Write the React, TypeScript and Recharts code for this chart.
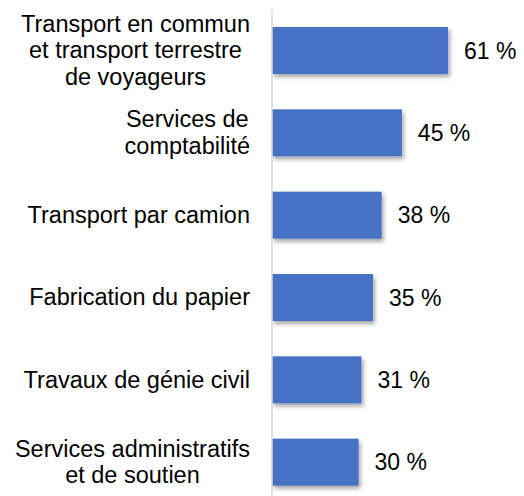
import { Bar, BarChart, LabelList, XAxis, YAxis } from "recharts";

const categories = [
  "Transport en commun\net transport terrestre\nde voyageurs",
  "Services de\ncomptabilité",
  "Transport par camion",
  "Fabrication du papier",
  "Travaux de génie civil",
  "Services administratifs\net de soutien",
];
const shares = [61, 45, 38, 35, 31, 30];

const data = categories.map((name, i) => ({ name, value: shares[i] }));

const FONT = '"Liberation Sans", Arial, sans-serif';
const LABEL_SIZE = 23.5;

let ctx: CanvasRenderingContext2D | null = null;
function textWidth(s: string, size: number) {
  if (!ctx) ctx = document.createElement("canvas").getContext("2d");
  if (!ctx) return s.length * size * 0.5;
  ctx.font = `${size}px "Liberation Sans"`;
  return ctx.measureText(s).width;
}

// multi-line labels: lines centred inside a block whose right edge sits at x
function CategoryTick({ x, y, payload }: any) {
  const lines = String(payload.value).split("\n");
  const lh = 26.5;
  const w = Math.max(...lines.map((l) => textWidth(l, LABEL_SIZE)));
  const cx = x - w / 2;
  return (
    <text x={cx} y={y} textAnchor="middle" fontSize={LABEL_SIZE} fontFamily={FONT} fill="#000">
      {lines.map((l, i) => (
        <tspan key={i} x={cx} y={y + (i - (lines.length - 1) / 2) * lh} dy="0.35em">
          {l}
        </tspan>
      ))}
    </text>
  );
}

function ShadowBar({ x, y, width, height, fill }: any) {
  return <rect x={x} y={y} width={width} height={height} fill={fill} filter="url(#barShadow)" />;
}

export default function App() {
  return (
    <div style={{ position: "absolute", left: 0, top: 0, width: 524, height: 496, overflow: "hidden", background: "#fff" }}>
      <svg width={0} height={0} style={{ position: "absolute" }}>
        <defs>
          <filter id="barShadow" x="-10%" y="-10%" width="130%" height="140%">
            <feDropShadow dx={2} dy={3} stdDeviation={2} floodColor="#000" floodOpacity={0.35} />
          </filter>
        </defs>
      </svg>
      <BarChart
        width={524}
        height={503}
        data={data}
        layout="vertical"
        margin={{ top: 9, right: 50, bottom: 0, left: 0 }}
      >
        <XAxis type="number" domain={[0, 70]} hide />
        <YAxis
          type="category"
          dataKey="name"
          width={272}
          tickSize={0}
          tickMargin={22}
          tickLine={false}
          axisLine={{ stroke: "#d9d9d9", strokeWidth: 1.5 }}
          tick={<CategoryTick />}
          interval={0}
        />
        <Bar dataKey="value" fill="#4472C4" barSize={47} shape={<ShadowBar />} isAnimationActive={false}>
          <LabelList
            dataKey="value"
            position="right"
            offset={16}
            formatter={(v: any) => `${v} %`}
            style={{ fontSize: 23, fontFamily: FONT, fill: "#000" }}
          />
        </Bar>
      </BarChart>
    </div>
  );
}
